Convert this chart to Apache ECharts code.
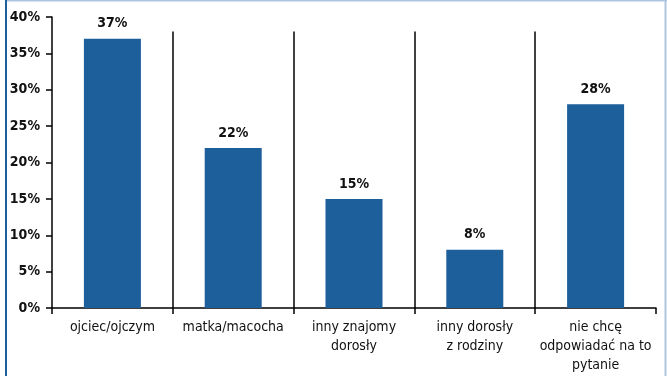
<!DOCTYPE html>
<html>
<head>
<meta charset="utf-8">
<script src="https://cdn.jsdelivr.net/npm/echarts@6/dist/echarts.min.js"></script>
<style>
html,body{margin:0;padding:0;background:#fff;}
#chart{width:667px;height:376px;}
</style>
</head>
<body>
<div id="chart"></div>
<script>
// Answer categories and shares (percent)
var categories = ['ojciec/ojczym', 'matka/macocha', 'inny znajomy\ndorosły', 'inny dorosły\nz rodziny', 'nie chcę\nodpowiadać na to\npytanie'];
var shares = [37, 22, 15, 8, 28];
var yTicks = [0, 5, 10, 15, 20, 25, 30, 35, 40];
// Category boundaries where vertical separators are drawn
var separators = [1, 2, 3, 4];
var separatorTop = 38;

var FONT = '"Liberation Sans Narrow", "DejaVu Sans Condensed", "Arial Narrow", sans-serif';

var chart = echarts.init(document.getElementById('chart'), null, {renderer: 'canvas'});

chart.setOption({
  animation: false,
  backgroundColor: '#ffffff',
  grid: {left: 52, right: 11, top: 17, bottom: 68, containLabel: false},
  xAxis: [{
    type: 'category',
    data: categories,
    axisLine: {lineStyle: {color: '#000', width: 1.5}},
    axisTick: {show: true, length: 6, alignWithLabel: false, lineStyle: {color: '#000', width: 1.5}},
    axisLabel: {color: '#111', fontFamily: FONT, fontSize: 14, margin: 10, lineHeight: 19, interval: 0},
    splitLine: {show: false}
  }, {
    type: 'value',
    min: 0,
    max: categories.length,
    show: false
  }],
  yAxis: {
    type: 'value',
    min: yTicks[0],
    max: yTicks[yTicks.length - 1],
    interval: 5,
    axisLine: {show: true, lineStyle: {color: '#000', width: 1.5}},
    axisTick: {show: true, length: 6, lineStyle: {color: '#000', width: 1.5}},
    axisLabel: {color: '#111', fontFamily: FONT, fontSize: 14, fontWeight: 'bold', margin: 12, formatter: '{value}%'},
    splitLine: {show: false}
  },
  series: [{
    type: 'bar',
    data: shares,
    barWidth: 57,
    itemStyle: {color: '#1d5f9b'},
    label: {
      show: true,
      position: 'top',
      distance: 8,
      color: '#111',
      fontFamily: FONT,
      fontSize: 14,
      fontWeight: 'bold',
      formatter: function (p) { return p.value + '%'; }
    }
  }, {
    type: 'line',
    xAxisIndex: 1,
    data: [],
    silent: true,
    markLine: {
      symbol: 'none',
      silent: true,
      label: {show: false},
      lineStyle: {color: '#000', width: 1.5, type: 'solid'},
      data: separators.map(function (s) {
        return [{coord: [s, 0]}, {coord: [s, separatorTop]}];
      })
    }
  }],
  graphic: [
    {type: 'line', shape: {x1: 5, y1: 0.5, x2: 667, y2: 0.5}, style: {stroke: '#adc5df', lineWidth: 2}},
    {type: 'line', shape: {x1: 6, y1: 0, x2: 6, y2: 376}, style: {stroke: '#1d5f9b', lineWidth: 2}},
    {type: 'line', shape: {x1: 665.5, y1: 0, x2: 665.5, y2: 376}, style: {stroke: '#adc5df', lineWidth: 2}}
  ]
});
</script>
</body>
</html>
